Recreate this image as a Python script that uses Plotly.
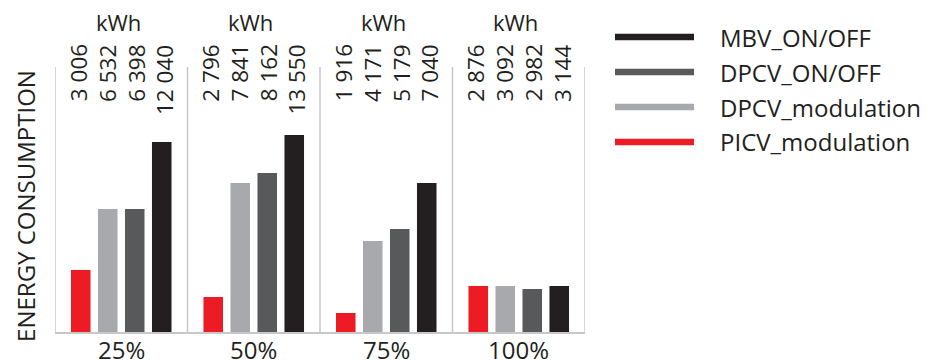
import plotly.graph_objects as go

# Load levels and series
categories = ["25%", "50%", "75%", "100%"]
series = ["PICV_modulation", "DPCV_modulation", "DPCV_ON/OFF", "MBV_ON/OFF"]
colors = ["#ED1C24", "#A7A9AC", "#58595B", "#231F20"]

# Bar heights as drawn (relative scale)
picv_mod = [62, 35, 19, 46]
dpcv_mod = [123, 149, 91, 46]
dpcv_onoff = [123, 159, 103, 43]
mbv_onoff = [190, 197, 149, 46]

# kWh values printed above each bar
picv_mod_kwh = ["3 006", "2 796", "1 916", "2 876"]
dpcv_mod_kwh = ["6 532", "7 841", "4 171", "3 092"]
dpcv_onoff_kwh = ["6 398", "8 162", "5 179", "2 982"]
mbv_onoff_kwh = ["12 040", "13 550", "7 040", "3 144"]

heights = [picv_mod, dpcv_mod, dpcv_onoff, mbv_onoff]
labels = [picv_mod_kwh, dpcv_mod_kwh, dpcv_onoff_kwh, mbv_onoff_kwh]

FONT = "Open Sans"
TXT = "#231F20"
GRID = "#C8C8C8"

fig = go.Figure()
for name, vals, col in zip(series, heights, colors):
    fig.add_trace(
        go.Bar(x=categories, y=vals, name=name, marker=dict(color=col, line=dict(width=0)))
    )

# vertical separators between groups
for k in range(len(categories) + 1):
    fig.add_shape(
        type="line", xref="x", yref="paper", x0=k - 0.5, x1=k - 0.5, y0=0, y1=1,
        line=dict(color=GRID, width=1.5),
    )

# kWh headers, rotated values and category labels
step_px = 28.8
for i, cat in enumerate(categories):
    fig.add_annotation(
        x=cat, y=1.17, xref="x", yref="paper", text="kWh", showarrow=False,
        yanchor="middle", xanchor="center",
        font=dict(family=FONT, size=22, color=TXT), xshift=-3,
    )
    fig.add_annotation(
        x=cat, y=-0.066, xref="x", yref="paper", text=cat, showarrow=False,
        yanchor="middle", xanchor="center",
        font=dict(family=FONT, size=24, color=TXT),
    )
    for j in range(len(series)):
        fig.add_annotation(
            x=cat, y=1.092, xref="x", yref="paper", text=labels[j][i], showarrow=False,
            textangle=-90, yanchor="top", xanchor="center",
            xshift=(j - 1.5) * step_px,
            font=dict(family=FONT, size=22.5, color=TXT),
        )

# y title
fig.add_annotation(
    x=-0.057, y=0.475, xref="paper", yref="paper", text="ENERGY CONSUMPTION",
    showarrow=False, textangle=-90, xanchor="center", yanchor="middle",
    font=dict(family=FONT, size=24, color=TXT),
)

# custom legend (thick line keys)
leg_y = [1.113, 0.981, 0.849, 0.717]
for k, idx in enumerate([3, 2, 1, 0]):
    fig.add_shape(
        type="line", xref="paper", yref="paper", x0=1.0566, x1=1.2057,
        y0=leg_y[k], y1=leg_y[k], line=dict(color=colors[idx], width=6.5),
    )
    fig.add_annotation(
        x=1.251, y=leg_y[k], xref="paper", yref="paper", text=series[idx],
        showarrow=False, xanchor="left", yanchor="middle",
        font=dict(family=FONT, size=24, color=TXT),
    )

fig.update_layout(
    width=936, height=361,
    margin=dict(l=55, r=351, t=67, b=29),
    plot_bgcolor="white", paper_bgcolor="white",
    showlegend=False,
    barmode="group", bargap=0.185, bargroupgap=0.276,
)
fig.update_xaxes(
    showline=True, linecolor=GRID, linewidth=1.5, showgrid=False, ticks="",
    showticklabels=False, automargin=False, range=[-0.5, 3.5],
)
fig.update_yaxes(range=[0, 265], showticklabels=False, showgrid=False, zeroline=False)

fig.write_html(
    "out.html",
    config={"displayModeBar": False},
    post_script="document.body.style.margin='0';",
)
